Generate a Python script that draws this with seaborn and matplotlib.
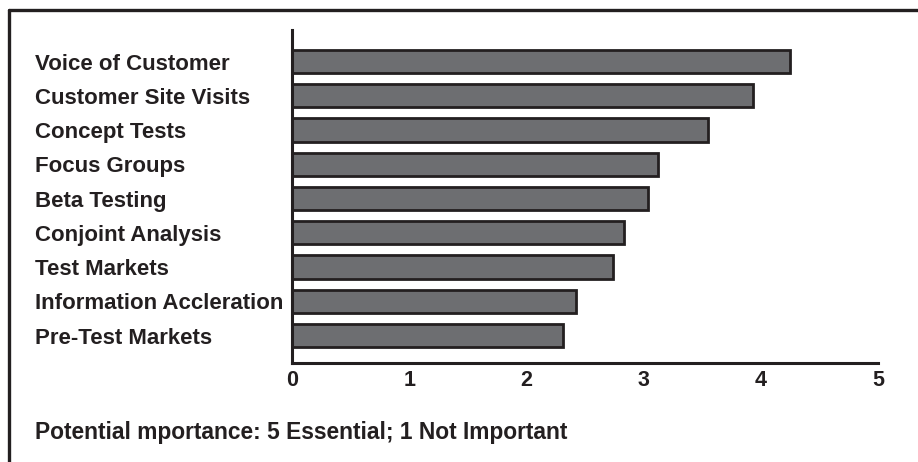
import matplotlib
matplotlib.use("Agg")
import matplotlib.pyplot as plt
from matplotlib.lines import Line2D
import seaborn as sns
import pandas as pd

# Mean potential importance of each market-research method (1-5 scale)
methods = [
    "Voice of Customer",
    "Customer Site Visits",
    "Concept Tests",
    "Focus Groups",
    "Beta Testing",
    "Conjoint Analysis",
    "Test Markets",
    "Information Accleration",
    "Pre-Test Markets",
]
scores = [4.25, 3.93, 3.55, 3.12, 3.04, 2.83, 2.74, 2.42, 2.31]
x_ticks = [0, 1, 2, 3, 4, 5]
footnote = "Potential mportance: 5 Essential; 1 Not Important"

df = pd.DataFrame({"method": methods, "score": scores})

sns.set_style("white")
plt.rcParams["font.family"] = ["Liberation Sans", "DejaVu Sans"]

INK = "#231f20"
BAR = "#6d6e71"

fig = plt.figure(figsize=(9.18, 4.62), dpi=100)
ax = fig.add_axes([292 / 918, 99 / 462, 586 / 918, 333 / 462])

sns.barplot(data=df, x="score", y="method", orient="h", color=BAR,
            edgecolor=INK, linewidth=2.0, width=0.68, saturation=1, ax=ax)

ax.set_xlim(0, 5)
ax.set_ylim(8.80, -0.92)
ax.set_xlabel("")
ax.set_ylabel("")

for side in ("top", "right"):
    ax.spines[side].set_visible(False)
for side in ("left", "bottom"):
    ax.spines[side].set_color(INK)
    ax.spines[side].set_linewidth(2.2)

ax.set_xticks(x_ticks)
ax.set_xticklabels([str(t) for t in x_ticks], fontsize=15.5, fontweight="bold", color=INK)
ax.tick_params(axis="x", direction="in", length=7.5, width=2.0, color=INK, pad=5)

ax.set_yticks(range(len(methods)))
ax.set_yticklabels(methods, fontsize=16, fontweight="bold", color=INK, ha="left")
ax.tick_params(axis="y", length=0, pad=257 * 0.72)

# Outer frame: left and top rules of the panel
fig.add_artist(Line2D([9 / 918, 9 / 918], [0, 1 - 10 / 462],
                      transform=fig.transFigure, color=INK, lw=2.4))
fig.add_artist(Line2D([9 / 918, 1], [1 - 10 / 462, 1 - 10 / 462],
                      transform=fig.transFigure, color=INK, lw=2.4))

fig.text(35 / 918, 1 - 432 / 462, footnote, fontsize=16.4, fontweight="bold",
         color=INK, ha="left", va="center")

fig.savefig("out.png", dpi=100)
